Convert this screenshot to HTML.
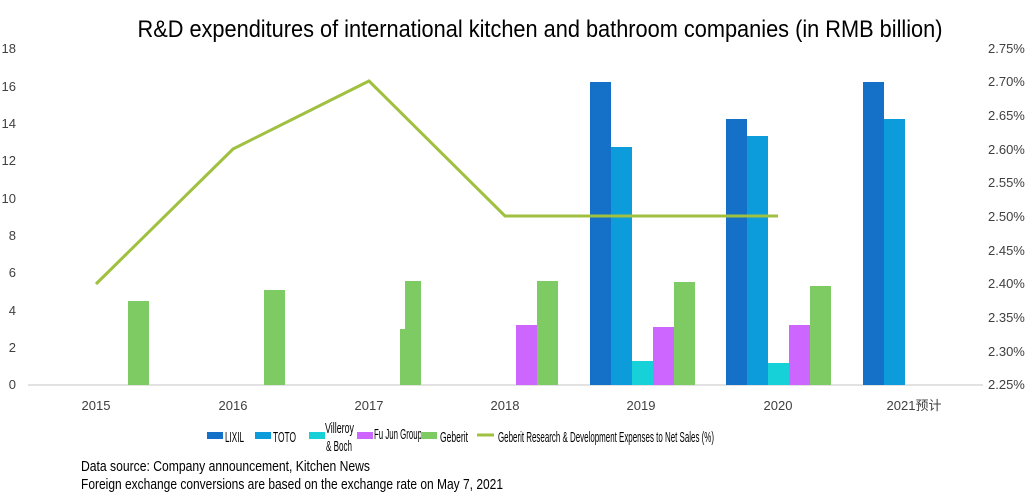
<!DOCTYPE html>
<html><head><meta charset="utf-8"><style>body{margin:0;background:#fff}svg{display:block}</style></head><body>
<svg width="1034" height="501" xmlns="http://www.w3.org/2000/svg" font-family="Liberation Sans, sans-serif">
<rect width="1034" height="501" fill="#fff"/>
<text x="540" y="37" text-anchor="middle" font-size="24" textLength="805" lengthAdjust="spacingAndGlyphs" fill="#000">R&amp;D expenditures of international kitchen and bathroom companies (in RMB billion)</text>
<g font-size="13" fill="#404040" text-anchor="end">
<text x="16" y="53">18</text><text x="16" y="91">16</text><text x="16" y="128">14</text><text x="16" y="165">12</text><text x="16" y="203">10</text><text x="16" y="240">8</text><text x="16" y="277">6</text><text x="16" y="315">4</text><text x="16" y="352">2</text><text x="16" y="389">0</text>
</g>
<g font-size="13" fill="#404040" text-anchor="start">
<text x="988" y="53">2.75%</text><text x="988" y="86">2.70%</text><text x="988" y="120">2.65%</text><text x="988" y="154">2.60%</text><text x="988" y="187">2.55%</text><text x="988" y="221">2.50%</text><text x="988" y="255">2.45%</text><text x="988" y="288">2.40%</text><text x="988" y="322">2.35%</text><text x="988" y="356">2.30%</text><text x="988" y="389">2.25%</text>
</g>
<line x1="28" y1="385" x2="983" y2="385" stroke="#d9d9d9" stroke-width="1.5"/>
<g font-size="13" fill="#404040" text-anchor="middle">
<text x="96" y="410">2015</text><text x="233" y="410">2016</text><text x="369" y="410">2017</text><text x="505" y="410">2018</text><text x="641" y="410">2019</text><text x="778" y="410">2020</text><text x="914" y="410">2021预计</text>
</g>
<g>
<rect x="128" y="301" width="21" height="84" fill="#7ECB63"/>
<rect x="264" y="290" width="21" height="95" fill="#7ECB63"/>
<rect x="400" y="329" width="6" height="56" fill="#7ECB63"/>
<rect x="405" y="281" width="16" height="104" fill="#7ECB63"/>
<rect x="516" y="325" width="21" height="60" fill="#CC66FF"/>
<rect x="537" y="281" width="21" height="104" fill="#7ECB63"/>
<rect x="590" y="82" width="21" height="303" fill="#1570C8"/>
<rect x="611" y="147" width="21" height="238" fill="#0C9CDC"/>
<rect x="632" y="361" width="21" height="24" fill="#17D1D8"/>
<rect x="653" y="327" width="21" height="58" fill="#CC66FF"/>
<rect x="674" y="282" width="21" height="103" fill="#7ECB63"/>
<rect x="726" y="119" width="21" height="266" fill="#1570C8"/>
<rect x="747" y="136" width="21" height="249" fill="#0C9CDC"/>
<rect x="768" y="363" width="21" height="22" fill="#17D1D8"/>
<rect x="789" y="325" width="21" height="60" fill="#CC66FF"/>
<rect x="810" y="286" width="21" height="99" fill="#7ECB63"/>
<rect x="863" y="82" width="21" height="303" fill="#1570C8"/>
<rect x="884" y="119" width="21" height="266" fill="#0C9CDC"/>
</g>
<polyline points="96,284 233,149 369,81 505,216 641,216 778,216" fill="none" stroke="#A0C040" stroke-width="3"/>
<g font-size="15" fill="#000">
<rect x="207" y="432" width="16" height="7" fill="#1570C8"/><text x="225" y="442" textLength="19" lengthAdjust="spacingAndGlyphs">LIXIL</text>
<rect x="255" y="432" width="16" height="7" fill="#0C9CDC"/><text x="273" y="442" textLength="23" lengthAdjust="spacingAndGlyphs">TOTO</text>
<rect x="309" y="432" width="16" height="7" fill="#17D1D8"/><text x="325" y="433" textLength="29" lengthAdjust="spacingAndGlyphs">Villeroy</text><text x="326" y="451" textLength="26" lengthAdjust="spacingAndGlyphs">&amp; Boch</text>
<rect x="357" y="432" width="16" height="7" fill="#CC66FF"/><text x="374" y="439" textLength="48" lengthAdjust="spacingAndGlyphs">Fu Jun Group</text>
<rect x="421" y="432" width="16" height="7" fill="#7ECB63"/><text x="440" y="442" textLength="28" lengthAdjust="spacingAndGlyphs">Geberit</text>
<line x1="477" y1="435" x2="494" y2="435" stroke="#A0C040" stroke-width="3"/><text x="498" y="442" textLength="216" lengthAdjust="spacingAndGlyphs">Geberit Research &amp; Development Expenses to Net Sales (%)</text>
</g>
<g font-size="15" fill="#000">
<text x="81" y="471" textLength="289" lengthAdjust="spacingAndGlyphs">Data source: Company announcement, Kitchen News</text>
<text x="81" y="489" textLength="422" lengthAdjust="spacingAndGlyphs">Foreign exchange conversions are based on the exchange rate on May 7, 2021</text>
</g>
</svg>
</body></html>
